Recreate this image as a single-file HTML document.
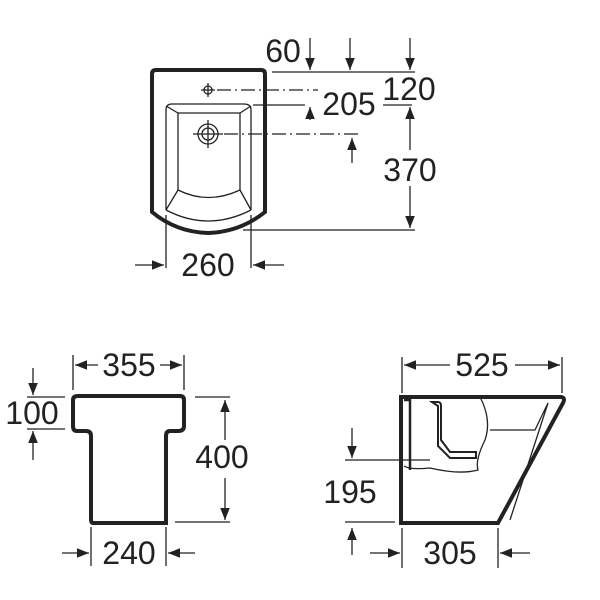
<!DOCTYPE html>
<html><head><meta charset="utf-8"><style>body{margin:0;background:#fff}svg{display:block}text{font-family:"Liberation Sans",sans-serif;font-size:32px;fill:#222;text-anchor:middle}</style></head><body>
<svg width="600" height="600" viewBox="0 0 600 600" xmlns="http://www.w3.org/2000/svg">
<defs><marker id="a" viewBox="0 0 10 10" refX="10" refY="5" markerUnits="userSpaceOnUse" markerWidth="14" markerHeight="12" orient="auto"><path d="M0,1L10,5L0,9z" fill="#222"/></marker></defs>
<g stroke="#222" stroke-width="1.3" fill="none">
<path d="M152,74 Q152,70 156,70 L261,70 Q265,70 265,74 L265,212 Q240,232 208,233 Q176,232 152,212 Z" stroke-width="4"/>
<path d="M166,210 L166,110 Q166,104 172,104 L244,104 Q251,104 251,110 L251,210"/>
<path d="M166,106 L178,113 L240,113 L251,106"/>
<path d="M178,113 L178,190 M240,113 L240,190"/>
<path d="M178,190 Q208,205 240,190 M178,190 L166,210 M240,190 L251,210"/>
<path d="M166,210 Q208,232 251,210"/>
<circle cx="208" cy="90" r="4"/><path d="M201,90h14M208,83v14"/>
<circle cx="208" cy="134" r="10"/><circle cx="208" cy="134" r="6"/><path d="M193,134h30M208,120v28"/>
<path d="M217,90H318" stroke-dasharray="14,4,2,4"/>
<path d="M224,134H360" stroke-dasharray="14,4,2,4"/>
<path d="M272,72H415M253,105H305M383,105H412M243,230H415"/>
<g marker-end="url(#a)">
<path d="M310,38V70"/><path d="M350,38V70"/><path d="M410,38V70"/>
<path d="M310,120V107"/><path d="M352,163V138"/><path d="M410,150V107"/>
<path d="M410,186V228"/>
<path d="M135,265H164"/><path d="M284,265H253"/>
<path d="M33,368V395"/><path d="M33,460V431"/><path d="M225,440V400"/><path d="M225,478V520"/>
<path d="M62,553H89"/><path d="M195,553H168"/>
<path d="M98,365H75"/><path d="M160,365H182"/>
<path d="M352,428V458"/><path d="M352,555V528"/><path d="M370,553H400"/><path d="M530,553H500"/>
<path d="M450,365H404"/><path d="M515,365H560"/>
</g>
<path d="M166,215V268M251,215V268"/>
<path d="M78,396 H180 Q184,396 184,400 V426 Q184,431 178,431 H170 Q166,431 166,436 V523 H93 Q91,523 91,519 V436 Q91,431 86,431 H77 Q73,431 73,426 V400 Q73,396 78,396Z" stroke-width="4"/>
<path d="M73,355V390M184,355V390M27,397H65M27,429H65M195,397H230M175,522H230M91,527V566M166,527V566"/>
<path d="M401,397 H560 Q566,397 563,403 L498,523 H401 Z" stroke-width="4"/>
<path d="M404,400 H410 V470" stroke-width="2.5"/>
<path d="M432,402 H438 Q441,402 441,406 V440 L450,452 H476 V458 H450 L438,446 V406 Z" stroke-width="2"/>
<path d="M480,397 Q492,420 485,440 Q475,460 478,470 Q460,475 430,468 Q410,470 404,466"/>
<path d="M490,430 H535 L548,403 M548,403 L510,520"/>
<path d="M402,357V393M562,357V393M345,460H430M345,522H395M402,528V568M498,528V568"/>
</g>
<text x="283" y="62">60</text>
<text x="409" y="100">120</text>
<text x="349" y="115">205</text>
<text x="410" y="181">370</text>
<text x="208" y="276">260</text>
<text x="129" y="376">355</text>
<text x="32" y="424">100</text>
<text x="222" y="468">400</text>
<text x="129" y="564">240</text>
<text x="482" y="376">525</text>
<text x="350" y="503">195</text>
<text x="450" y="564">305</text>
</svg>
</body></html>
